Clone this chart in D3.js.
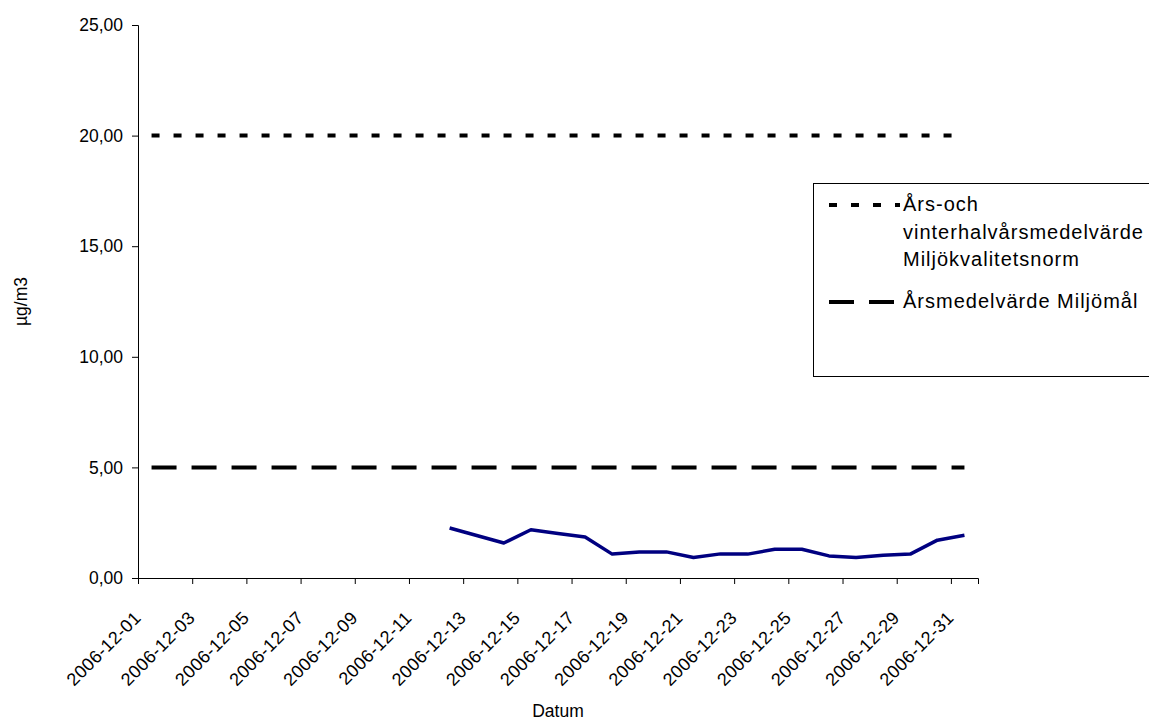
<!DOCTYPE html>
<html>
<head>
<meta charset="utf-8">
<script src="https://cdn.jsdelivr.net/npm/d3@7"></script>
<style>
  body { margin: 0; background: #fff; }
  text { font-family: "Liberation Sans", Arial, sans-serif; fill: #000; }
</style>
</head>
<body>
<div id="chart"></div>
<script>
// Daily values, December 2006 (µg/m3); no measurements before the 12th
const days = ["2006-12-01","2006-12-02","2006-12-03","2006-12-04","2006-12-05","2006-12-06",
  "2006-12-07","2006-12-08","2006-12-09","2006-12-10","2006-12-11","2006-12-12","2006-12-13",
  "2006-12-14","2006-12-15","2006-12-16","2006-12-17","2006-12-18","2006-12-19","2006-12-20",
  "2006-12-21","2006-12-22","2006-12-23","2006-12-24","2006-12-25","2006-12-26","2006-12-27",
  "2006-12-28","2006-12-29","2006-12-30","2006-12-31"];
const values = [null,null,null,null,null,null,null,null,null,null,null,
  2.26, 1.92, 1.58, 2.18, 2.01, 1.85, 1.08, 1.18, 1.18, 0.93, 1.09, 1.08,
  1.30, 1.30, 1.00, 0.93, 1.03, 1.08, 1.71, 1.93];

// Reference levels
const normValue = 20;   // Års-och vinterhalvårsmedelvärde Miljökvalitetsnorm
const goalValue = 5;    // Årsmedelvärde Miljömål

const yTicks = [0, 5, 10, 15, 20, 25];
const legendLabels = [
  ["Års-och", "vinterhalvårsmedelvärde", "Miljökvalitetsnorm"],
  ["Årsmedelvärde Miljömål"]
];

const W = 1149, H = 725;
const margin = { top: 25, right: 171, bottom: 147, left: 138 };
const width = W - margin.left - margin.right;
const height = H - margin.top - margin.bottom;

const parse = d3.timeParse("%Y-%m-%d");
const dayDates = days.map(parse);
const midDay = d => d3.timeHour.offset(d, 12);

const svg = d3.select("#chart").append("svg")
    .attr("width", W)
    .attr("height", H);

svg.append("rect").attr("width", W).attr("height", H).attr("fill", "#fff");

const g = svg.append("g")
    .attr("transform", `translate(${margin.left},${margin.top})`);

// scales
const x = d3.scaleTime()
    .domain([dayDates[0], d3.timeDay.offset(dayDates[dayDates.length - 1], 1)])
    .range([0, width]);

const y = d3.scaleLinear()
    .domain([0, 25])
    .range([height, 0]);

const locale = d3.formatLocale({ decimal: ",", thousands: " ", grouping: [3], currency: ["", " kr"] });
const fmt = locale.format(".2f");

// y axis
const yAxis = g.append("g")
    .call(d3.axisLeft(y).tickValues(yTicks).tickFormat(fmt).tickSize(6).tickPadding(9));
yAxis.select(".domain").attr("stroke", "#000");
yAxis.selectAll("text").style("font-size", "17.5px");

// x axis, ticks every second day
const tickDates = dayDates.filter((d, i) => i % 2 === 0);
const xAxis = g.append("g")
    .attr("transform", `translate(0,${height})`)
    .call(d3.axisBottom(x).tickValues(tickDates).tickSize(6).tickFormat(""));
xAxis.select(".domain").attr("stroke", "#000");

g.append("g").selectAll("text")
    .data(tickDates)
    .join("text")
    .attr("transform", d => `translate(${x(d) + 4},${height + 41}) rotate(-45)`)
    .attr("text-anchor", "end")
    .style("font-size", "18px")
    .style("letter-spacing", "0.4px")
    .text(d3.timeFormat("%Y-%m-%d"));

// reference lines over the whole month
const refLine = d3.line()
    .x(d => x(midDay(d)));

g.append("path")
    .datum(dayDates)
    .attr("fill", "none")
    .attr("stroke", "#000")
    .attr("stroke-width", 4)
    .attr("stroke-dasharray", "8,14")
    .attr("d", refLine.y(() => y(normValue)));

g.append("path")
    .datum(dayDates)
    .attr("fill", "none")
    .attr("stroke", "#000")
    .attr("stroke-width", 4)
    .attr("stroke-dasharray", "25,15")
    .attr("d", refLine.y(() => y(goalValue)));

// measured series
const series = dayDates.map((d, i) => ({ date: d, value: values[i] }));
g.append("path")
    .datum(series)
    .attr("fill", "none")
    .attr("stroke", "#000080")
    .attr("stroke-width", 3.5)
    .attr("stroke-linejoin", "round")
    .attr("d", d3.line()
        .defined(d => d.value !== null)
        .x(d => x(midDay(d.date)))
        .y(d => y(d.value)));

// axis titles
svg.append("text")
    .attr("x", margin.left + width / 2)
    .attr("y", 717)
    .attr("text-anchor", "middle")
    .style("font-size", "17.5px")
    .text("Datum");

svg.append("text")
    .attr("transform", `translate(27,${margin.top + height / 2}) rotate(-90)`)
    .attr("text-anchor", "middle")
    .style("font-size", "17.5px")
    .text("µg/m3");

// legend
const legend = svg.append("g");
legend.append("rect")
    .attr("x", 813.5).attr("y", 183.5)
    .attr("width", 400).attr("height", 193)
    .attr("fill", "#fff")
    .attr("stroke", "#000");

const legendY = [205, 302];
const legendDash = ["8,14", "25,15"];
legendLabels.forEach((lines, i) => {
    legend.append("line")
        .attr("x1", 829).attr("x2", 900)
        .attr("y1", legendY[i]).attr("y2", legendY[i])
        .attr("stroke", "#000")
        .attr("stroke-width", 4)
        .attr("stroke-dasharray", legendDash[i]);
    lines.forEach((t, j) => {
        legend.append("text")
            .attr("x", 903)
            .attr("y", legendY[i] + 6 + j * 27.5)
            .style("font-size", "20px")
            .style("letter-spacing", "1px")
            .text(t);
    });
});
</script>
</body>
</html>
